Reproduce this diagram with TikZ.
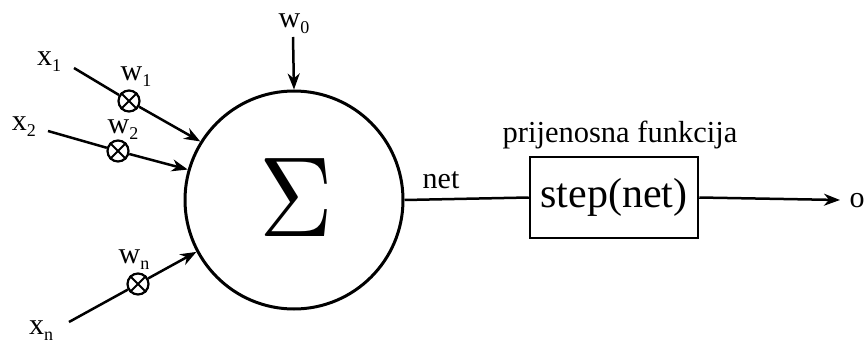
\documentclass[tikz,border=0pt]{standalone}
\usepackage{fontspec}
\setmainfont{Liberation Serif}
\usetikzlibrary{arrows.meta}
\newcommand{\lsub}[1]{\raisebox{-0.42ex}{\fontsize{18}{18}\selectfont #1}}
\begin{document}
\begin{tikzpicture}[x=1pt,y=-1pt,
  lbl/.style={inner sep=0pt,font=\fontsize{30}{30}\selectfont},
  wire/.style={line width=2.5pt},
  arr/.style={line width=2.5pt,-{Stealth[length=16pt,width=12pt,inset=5pt]}},
  otim/.style={circle,draw,line width=2.2pt,minimum size=21pt,inner sep=0pt,fill=white}]
\useasboundingbox (0,0) rectangle (867,345);
\node[circle,draw,line width=3pt,minimum size=218pt,inner sep=0pt] (sig) at (294,200) {};
\node[inner sep=0pt,xscale=10.2,yscale=11.4] (sigma) at (296,198) {$\Sigma$};
\node[draw,line width=2.5pt,minimum width=168pt,minimum height=81pt,inner sep=0pt,
  font=\fontsize{42}{42}\selectfont] (box) at (614,197.5) {step(net)};
\node[lbl,font=\fontsize{30.5}{30}\selectfont] (pf) at (620,135) {prijenosna funkcija};
\node[lbl] (net) at (441,180) {net};
\node[lbl] (out) at (857,201) {o};
\coordinate (oend) at (840,200);
% inputs
\node[lbl] (x1) at (49,62) {x\lsub{1}};
\node[lbl] (x2) at (24,127) {x\lsub{2}};
\node[lbl] (xn) at (41,331) {x\lsub{n}};
\node[lbl] (w0) at (294,24) {w\lsub{0}};
\node[lbl] (w1) at (136,77) {w\lsub{1}};
\node[lbl] (w2) at (123,130) {w\lsub{2}};
\node[lbl] (wn) at (134,260) {w\lsub{n}};
\coordinate (s1) at (74,68);
\coordinate (s2) at (48,131);
\coordinate (sn) at (69,322);
\coordinate (s0) at (293,37);
\node[otim] (o1) at (129,101) {};
\node[otim] (o2) at (118,151) {};
\node[otim] (on) at (138,284) {};
\foreach \o in {o1,o2,on}{
  \draw[line width=2pt] (\o.north east) -- (\o.south west) (\o.north west) -- (\o.south east);}
\draw[wire] (s1) -- (o1);
\draw[arr] (o1) -- (sig.148.9);
\draw[wire] (s2) -- (o2);
\draw[arr] (o2) -- (sig.164.2);
\draw[wire] (sn) -- (on);
\draw[arr] (on) -- (sig.208.4);
\draw[arr] (s0) -- (sig.north);
\draw[wire] (sig.east) -- (box.west);
\draw[arr] (box.east) -- (oend);
\end{tikzpicture}
\end{document}
